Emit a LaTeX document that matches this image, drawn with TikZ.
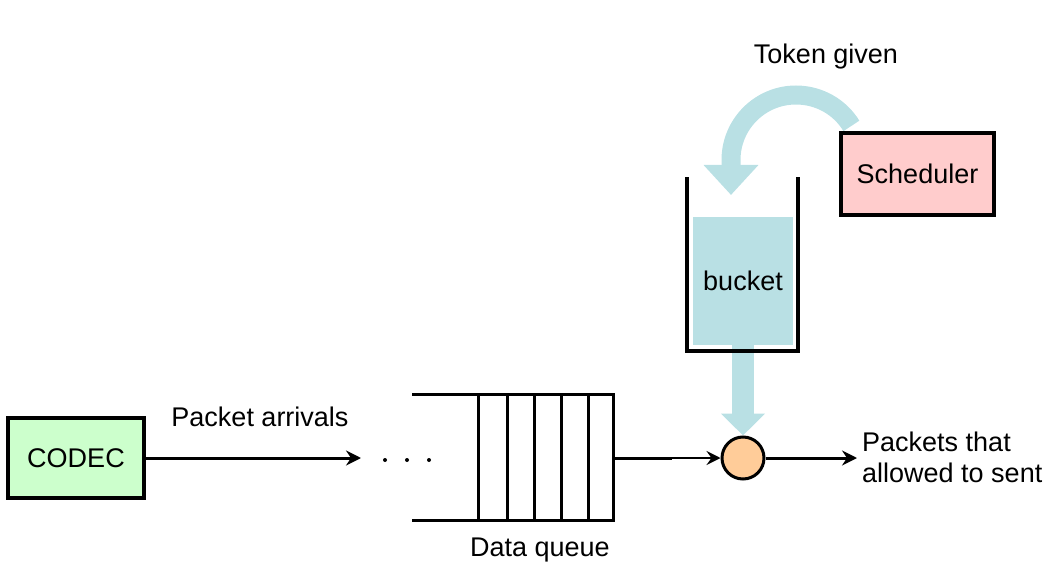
\documentclass[tikz,border=0pt]{standalone}
\usepackage{fontspec}
\setmainfont{Liberation Sans}
\usetikzlibrary{arrows.meta}
\definecolor{tokblue}{RGB}{185,224,228}
\definecolor{codecgreen}{RGB}{204,255,204}
\definecolor{schedpink}{RGB}{255,204,204}
\definecolor{muxorange}{RGB}{255,204,153}
\begin{document}
\begin{tikzpicture}[x=1pt,y=-1pt,
  txt/.style={font=\fontsize{27}{31}\selectfont, inner sep=0pt},
  boxnode/.style={draw=black, line width=3.5pt, font=\fontsize{27}{31}\selectfont},
  blk/.style={line width=3pt, line cap=rect},
  thinarrow/.style={line width=3pt, -{Stealth[length=15pt,width=15pt,inset=5pt]}}
]
\useasboundingbox (0,0) rectangle (1047,567);
% token arrow (curved)
\coordinate (tokS) at (851.4,125.9);
\coordinate (tokL) at (731,160);
\coordinate (tokE) at (731,195);
\draw[tokblue, line width=19pt, -{Triangle[width=53pt,length=30pt]}]
  (tokS) .. controls (839.6,106.6) and (818.6,95) .. (796,95)
         .. controls (760.1,95) and (731,124.1) .. (tokL) -- (tokE);
% scheduler
\node[boxnode, fill=schedpink, minimum width=153pt, minimum height=82pt] (sched) at (917.5,174) {Scheduler};
% bucket fill
\node[txt, fill=tokblue, minimum width=100pt, minimum height=128pt] (bucket) at (743,281) {bucket};
% mux circle
\node[circle, draw=black, line width=3pt, fill=muxorange, minimum size=42pt, inner sep=0pt] (mux) at (743,458) {};
% bucket to mux arrow
\draw[tokblue, line width=22pt, -{Triangle[width=43pt,length=22pt]}] (bucket.south) -- (mux.north);
% bucket walls
\draw[line width=3.5pt] (687,177) -- (687,351) -- (798,351) -- (798,177);
% codec
\node[boxnode, fill=codecgreen, minimum width=136pt, minimum height=80pt] (codec) at (76,458) {CODEC};
\coordinate (arrend) at (361,458);
\draw[thinarrow] (codec.east) -- (arrend);
\node[txt] (arrlbl) at (260,417) {Packet arrivals};
% dots
\fill (385,460) circle (2pt) (407,460) circle (2pt) (429,460) circle (2pt);
% queue
\draw[blk] (413,394) -- (613,394) (413,520) -- (613,520);
\foreach \x in {478,507,534,561,588,613} \draw[blk] (\x,394) -- (\x,520);
\node[txt] (qlbl) at (540,550) {Data queue};
\coordinate (qout) at (613,458);
\coordinate (qmid) at (672,458);
\draw[line width=3pt] (qout) -- (qmid);
\draw[line width=2pt, -{Stealth[length=14pt,width=14pt,inset=5pt]}] (qmid) -- (mux.west);
% output
\coordinate (out) at (857,458);
\draw[thinarrow] (mux.east) -- (out);
\node[txt, anchor=west, align=left] (outlbl) at (862,457) {Packets that\\allowed to sent};
\node[txt] (toklbl) at (826,57) {Token given};
\end{tikzpicture}
\end{document}
